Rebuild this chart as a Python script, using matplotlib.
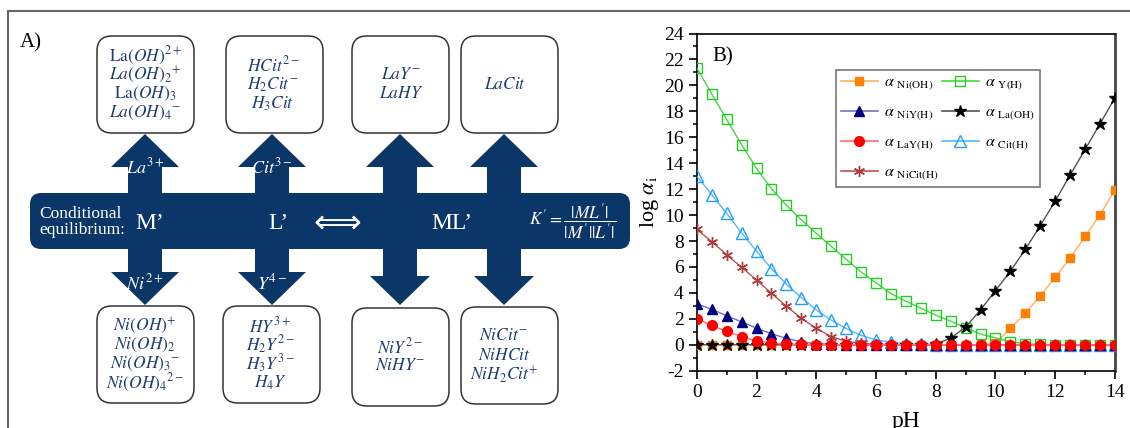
import matplotlib
matplotlib.use('agg')
from matplotlib import pyplot as plt
from matplotlib.patches import FancyBboxPatch, Polygon
from matplotlib.lines import Line2D
from matplotlib.ticker import MultipleLocator

plt.rcParams['font.family'] = ['Liberation Serif', 'DejaVu Sans']
plt.rcParams['mathtext.fontset'] = 'stix'
plt.rcParams['axes.unicode_minus'] = False

# ---- data for panel B (log alpha vs pH) ----
ph = [0, 0.5, 1, 1.5, 2, 2.5, 3, 3.5, 4, 4.5, 5, 5.5, 6, 6.5, 7,
      7.5, 8, 8.5, 9, 9.5, 10, 10.5, 11, 11.5, 12, 12.5, 13, 13.5, 14]

a_ni_oh = [0, 0, 0, 0, 0, 0, 0, 0, 0, 0, 0, 0, 0, 0, 0,
           0, 0, 0, 0, 0.02, 0.1, 1.28, 2.44, 3.77, 5.21, 6.69, 8.36, 10.03, 11.94]
a_niy_h = [3.15, 2.74, 2.23, 1.77, 1.28, 0.85, 0.49, 0.23, 0.08, 0.03, 0, 0, 0, 0, 0,
           0, 0, 0, 0, 0, 0, 0, 0, 0, 0, 0, 0, 0, 0]
a_lay_h = [2.0, 1.49, 1.03, 0.62, 0.31, 0.13, 0.05, 0.02, 0, 0, 0, 0, 0, 0, 0,
           0, 0, 0, 0, 0, 0, 0, 0, 0, 0, 0, 0, 0, 0]
a_nicit_h = [8.9, 7.95, 6.95, 5.97, 5.0, 3.97, 2.97, 2.05, 1.26, 0.62, 0.28, 0.1, 0.03, 0, 0,
             0, 0, 0, 0, 0, 0, 0, 0, 0, 0, 0, 0, 0, 0]
a_y_h = [21.35, 19.34, 17.38, 15.44, 13.6, 12.03, 10.75, 9.64, 8.59, 7.59, 6.59, 5.62, 4.77, 3.95, 3.36,
         2.82, 2.28, 1.82, 1.31, 0.82, 0.54, 0.23, 0.08, 0.02, 0, 0, 0, 0, 0]
a_la_oh = [0, 0, 0, 0, 0, 0, 0, 0, 0, 0, 0, 0, 0, 0, 0,
           0, 0.05, 0.51, 1.36, 2.69, 4.18, 5.67, 7.36, 9.18, 11.08, 13.1, 15.06, 17.04, 19.05]
a_cit_h = [13.0, 11.58, 10.13, 8.64, 7.23, 5.87, 4.67, 3.64, 2.69, 1.9, 1.26, 0.72, 0.38, 0.2, 0.08,
           0.03, 0, 0, 0, 0, 0, 0, 0, 0, 0, 0, 0, 0, 0]

# ---- text for panel A ----
top_species = [
    [r'$\mathrm{La}(OH)^{2+}$', r'$La(OH)_2{}^{+}$', r'$\mathrm{La}(OH)_3$', r'$La(OH)_4{}^{-}$'],
    [r'$HCit^{2-}$', r'$H_2Cit^{-}$', r'$H_3Cit$'],
    [r'$LaY^{-}$', r'$LaHY$'],
    [r'$LaCit$'],
]
bottom_species = [
    [r'$Ni(OH)^{+}$', r'$Ni(OH)_2$', r'$Ni(OH)_3{}^{-}$', r'$Ni(OH)_4{}^{2-}$'],
    [r'$HY^{3+}$', r'$H_2Y^{2-}$', r'$H_3Y^{3-}$', r'$H_4Y$'],
    [r'$NiY^{2-}$', r'$NiHY^{-}$'],
    [r'$NiCit^{-}$', r'$NiHCit$', r'$NiH_2Cit^{+}$'],
]
up_labels = [r'$La^{3+}$', r'$Cit^{3-}$', '', '']
down_labels = [r'$Ni^{2+}$', r'$Y^{4-}$', '', '']

navy = '#0b3768'
ink = '#1f3c72'

fig = plt.figure(figsize=(11.3, 4.28), dpi=100)

# panel A drawn in pixel space
pa = fig.add_axes([0, 0, 1, 1], zorder=0)
pa.set_xlim(0, 1130)
pa.set_ylim(428, 0)
pa.axis('off')

pa.plot([8, 1130], [11, 11], color='#666666', lw=1.5)
pa.plot([8, 8], [11, 428], color='#666666', lw=1.5)
pa.text(20, 43, 'A)', fontsize=15, va='center', ha='left')

col_x = [145, 272, 400, 504]
box_left = [97, 226, 352, 461]
top_box_y = (36, 133)
bot_box_y = [(306, 403), (306, 403), (308, 406), (307, 404)]

for i in range(4):
    b = FancyBboxPatch((box_left[i], top_box_y[0]), 97, top_box_y[1] - top_box_y[0],
                       boxstyle='round,pad=0,rounding_size=15', fc='white', ec='#333333', lw=1.1)
    pa.add_patch(b)
    y0, y1 = bot_box_y[i]
    b = FancyBboxPatch((box_left[i] - (3 if i == 1 else 0), y0), 97, y1 - y0,
                       boxstyle='round,pad=0,rounding_size=15', fc='white', ec='#333333', lw=1.1)
    pa.add_patch(b)

    n = len(top_species[i])
    cy = (top_box_y[0] + top_box_y[1]) / 2
    for k, s in enumerate(top_species[i]):
        pa.text(col_x[i] + (1 if i else 0), cy + (k - (n - 1) / 2) * 19, s, fontsize=12.5,
                color=ink, ha='center', va='center')
    n = len(bottom_species[i])
    cy = (y0 + y1) / 2
    for k, s in enumerate(bottom_species[i]):
        pa.text(col_x[i] + (-2 if i == 1 else 0), cy + (k - (n - 1) / 2) * 19, s, fontsize=12.5,
                color=ink, ha='center', va='center')

    cx = col_x[i]
    up = Polygon([(cx - 17, 194), (cx - 17, 167), (cx - 34, 167), (cx, 134),
                  (cx + 34, 167), (cx + 17, 167), (cx + 17, 194)], closed=True, fc=navy, ec='none')
    pa.add_patch(up)
    hb = 272 if i < 2 else 276
    hw = 34 if i < 2 else 30
    dn = Polygon([(cx - 17, 248), (cx - 17, hb), (cx - hw, hb), (cx, 305),
                  (cx + hw, hb), (cx + 17, hb), (cx + 17, 248)], closed=True, fc=navy, ec='none')
    pa.add_patch(dn)
    if up_labels[i]:
        pa.text(cx, 167, up_labels[i], fontsize=13, color='white', ha='center', va='center')
    if down_labels[i]:
        pa.text(cx, 283, down_labels[i], fontsize=13, color='white', ha='center', va='center')

band = FancyBboxPatch((30, 193), 600, 56, boxstyle='round,pad=0,rounding_size=11',
                      fc=navy, ec='none')
pa.add_patch(band)
pa.text(39, 222, 'Conditional\nequilibrium:', fontsize=12.5, color='white',
        ha='left', va='center', linespacing=1.0)
pa.text(150, 223, 'M\u2019', fontsize=17, color='white', ha='center', va='center')
pa.text(278, 223, 'L\u2019', fontsize=17, color='white', ha='center', va='center')
pa.text(337, 223, '\u27fa', fontsize=24, color='white', ha='center', va='center',
        family='DejaVu Sans')
pa.text(452, 223, 'ML\u2019', fontsize=17, color='white', ha='center', va='center')
pa.text(573, 222, r"$K' = \dfrac{|ML'|}{|M'||L'|}$", fontsize=12.5, color='white',
        ha='center', va='center')

# panel B chart
ax = fig.add_axes([0.6166, 0.1339, 0.3701, 0.7878], zorder=2)

series = [
    (a_ni_oh, r'$\alpha\ {}_{\mathrm{Ni(OH)}}$', 's', '#ff7f00', '#ffb060', '#ff7f00', 6),
    (a_niy_h, r'$\alpha\ {}_{\mathrm{NiY(H)}}$', '^', '#000080', '#7272b8', '#000080', 7),
    (a_lay_h, r'$\alpha\ {}_{\mathrm{LaY(H)}}$', 'o', '#ff0000', '#ff6a6a', '#ff0000', 7),
    (a_nicit_h, r'$\alpha\ {}_{\mathrm{NiCit(H)}}$', (6, 2, 0), '#b03a3a', '#c05050', '#b03a3a', 8),
    (a_y_h, r'$\alpha\ {}_{\mathrm{Y(H)}}$', 's', '#22cc22', '#44d844', 'none', 7),
    (a_la_oh, r'$\alpha\ {}_{\mathrm{La(OH)}}$', '*', '#000000', '#555555', '#000000', 9),
    (a_cit_h, r'$\alpha\ {}_{\mathrm{Cit(H)}}$', '^', '#1ea0ff', '#55b8ff', 'none', 8),
]
zorders = [3, 9, 10, 7, 4, 6, 5]

handles = []
for (vals, lab, mk, mc, lc, fc, ms), z in zip(series, zorders):
    ax.plot(ph, vals, color=lc, lw=1, zorder=z)
    ax.plot(ph, vals, ls='none', marker=mk, ms=ms, mec=mc, mfc=fc, mew=1, zorder=z + 0.5)
    handles.append(Line2D([], [], color=lc, lw=1.2, marker=mk, ms=ms, mec=mc, mfc=fc,
                          mew=1, label=lab))

ax.set_xlim(0, 14)
ax.set_ylim(-2, 24)
ax.xaxis.set_major_locator(MultipleLocator(2))
ax.xaxis.set_minor_locator(MultipleLocator(1))
ax.yaxis.set_major_locator(MultipleLocator(2))
ax.yaxis.set_minor_locator(MultipleLocator(1))
ax.tick_params(which='major', direction='out', length=6, width=1.2, labelsize=14,
               top=False, right=False)
ax.tick_params(which='minor', direction='out', length=3, width=1.1, top=False, right=False)
for sp in ax.spines.values():
    sp.set_linewidth(1.2)
ax.spines['right'].set_linewidth(2)
ax.spines['right'].set_color('#444444')

ax.set_xlabel('pH', fontsize=17, labelpad=7)
ax.set_ylabel(r'log $\alpha_{\mathrm{i}}$', fontsize=16, labelpad=2)
ax.text(0.037, 0.93, 'B)', transform=ax.transAxes, fontsize=15, va='center', ha='left')

leg = ax.legend(handles=handles, ncol=2, loc='upper left', bbox_to_anchor=(0.333, 0.893),
                borderaxespad=0, fontsize=11.5, frameon=True, fancybox=False,
                edgecolor='#555555', handlelength=2.3, handletextpad=0.4,
                columnspacing=0.2, labelspacing=0.75, borderpad=0.3)
leg.get_frame().set_linewidth(1.2)

fig.savefig('out.png', dpi=100)
